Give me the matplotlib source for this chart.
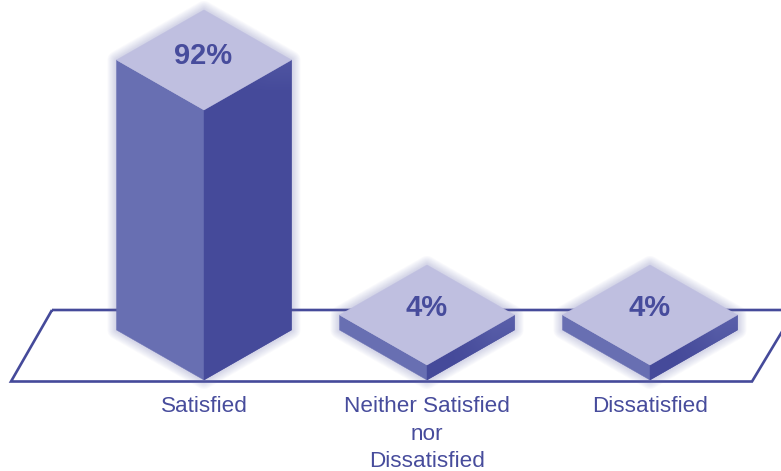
import matplotlib
matplotlib.use("Agg")
import matplotlib.pyplot as plt
from matplotlib.patches import Polygon
from matplotlib.colors import LinearSegmentedColormap
import numpy as np

categories = ["Satisfied", "Neither Satisfied\nnor\nDissatisfied", "Dissatisfied"]
values = [92, 4, 4]
value_labels = ["92%", "4%", "4%"]

PX_PER_UNIT_X = 223.0
PX_PER_VALUE = 2.898
BASE = -1.17            # value at which the front bottom vertex sits
W, H = 781, 471
HALF_W = 87.5 / PX_PER_UNIT_X
DEPTH = 50 / PX_PER_VALUE

DARK = "#454a9a"
MID = "#686fb2"
LIGHT = "#bfbfe0"
TEXT = "#474c9c"

plt.rcParams["font.family"] = ["Liberation Sans", "DejaVu Sans"]
fig = plt.figure(figsize=(W / 100, H / 100), dpi=100)
ax = fig.add_axes([0, 0, 1, 1])
x0 = -204 / PX_PER_UNIT_X
ymin = BASE - (471 - 380) / PX_PER_VALUE
ymax = BASE + 380 / PX_PER_VALUE
ax.set_xlim(x0, x0 + W / PX_PER_UNIT_X)
ax.set_ylim(ymin, ymax)
ax.axis("off")

# floor
fx = lambda p: x0 + p / PX_PER_UNIT_X
fy = lambda p: BASE + (380 - p) / PX_PER_VALUE
floor = Polygon([(fx(52), fy(310)), (fx(795), fy(310)), (fx(752), fy(381.5)), (fx(11), fy(381.5))],
                closed=True, fill=False, edgecolor=DARK, lw=1.9, joinstyle="miter", zorder=1)
ax.add_patch(floor)

grad = LinearSegmentedColormap.from_list("g", [DARK, "#5a60aa"])

for i, (v, cat, lab) in enumerate(zip(values, categories, value_labels)):
    top = v
    left = [(i - HALF_W, BASE + DEPTH), (i, BASE), (i, top), (i - HALF_W, top + DEPTH)]
    right = [(i, BASE), (i + HALF_W, BASE + DEPTH), (i + HALF_W, top + DEPTH), (i, top)]
    cap = [(i, top), (i + HALF_W, top + DEPTH), (i, top + 2 * DEPTH), (i - HALF_W, top + DEPTH)]
    outline = [left[1], right[1], right[2], cap[2], left[3], left[0]]
    # soft halo
    for lw in np.arange(13, 0, -1.5):
        ax.add_patch(Polygon(outline, closed=True, facecolor="none", edgecolor="#6a6db5",
                             lw=lw, alpha=0.035, joinstyle="round", zorder=2))
    ax.add_patch(Polygon(left, closed=True, facecolor=MID, edgecolor=MID, lw=0.3, zorder=3))
    rp = Polygon(right, closed=True, facecolor=DARK, edgecolor=DARK, lw=0.3, zorder=3)
    ax.add_patch(rp)
    # faint lightening toward the top of the right face
    g = np.linspace(0, 1, 64).reshape(-1, 1)
    g = np.clip(g - 0.9, 0, None) / 0.1 * 0.5 if v > 50 else g
    im = ax.imshow(np.hstack([g * 0, g]), cmap=grad, vmin=0, vmax=1, aspect="auto", origin="lower",
                   extent=(i, i + HALF_W, BASE, top + DEPTH), zorder=3.1, interpolation="bilinear")
    im.set_clip_path(rp)
    ax.add_patch(Polygon(cap, closed=True, facecolor=LIGHT, edgecolor=LIGHT, lw=0.3, zorder=4))
    ax.annotate(lab, (i, top + DEPTH), xytext=(-0.5, 3 if v > 50 else 5.2), textcoords="offset points",
                ha="center", va="center", fontsize=21, fontweight="bold", color=TEXT, zorder=5)
    for j, line in enumerate(cat.split("\n")):
        ax.text(i, fy(412 + 27.5 * j), line, ha="center", va="baseline", fontsize=16.2, color=TEXT, zorder=5)

ax.set_xlim(x0, x0 + W / PX_PER_UNIT_X)
ax.set_ylim(ymin, ymax)
fig.savefig("out.png", dpi=100)
